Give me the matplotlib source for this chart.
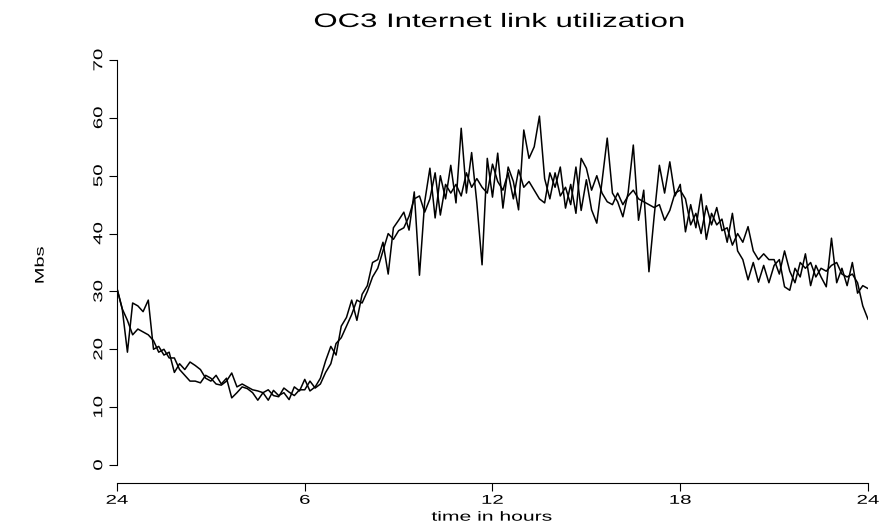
import numpy as np
import matplotlib
matplotlib.use('Agg')
import matplotlib.pyplot as plt
from matplotlib import patheffects
from matplotlib.transforms import Affine2D

# x axis: hours since midnight, labelled like a clock
hour_ticks = [0, 6, 12, 18, 24]
hour_labels = ['24', '6', '12', '18', '24']
mbs_ticks = [0, 10, 20, 30, 40, 50, 60, 70]

# link load in Mbs, one sample every 10 minutes over the day
day1 = [30.5, 27, 19.5, 28, 27.5, 26.5, 28.5, 20, 20.5, 19, 19.5, 16,
        17.5, 16.5, 17.8, 17.2, 16.5, 15, 14.5, 15.5, 14, 15, 11.6, 12.5,
        13.5, 13.2, 12.5, 11.2, 12.5, 11.2, 12.9, 12, 12.5, 11.3, 13.5, 12.8,
        14.8, 12.8, 13.5, 15, 18, 20.5, 19, 24, 25.5, 28.5, 25, 29.5,
        31, 35, 35.5, 38.5, 33, 41, 42.3, 43.7, 40.6, 47.2, 32.8, 45.5,
        51.3, 42.7, 50, 46, 51.8, 45.3, 58.2, 47, 54, 45.3, 34.6, 53,
        46.3, 53.9, 44.4, 51.5, 49, 44.1, 57.9, 53, 55, 60.3, 49.5, 46,
        50.5, 46.5, 48, 45, 51.5, 44, 49.3, 44.1, 41.8, 49, 56.5, 47,
        45.5, 42.9, 47, 55.3, 42.3, 47.5, 33.4, 43, 51.8, 47, 52.4, 46.5,
        48.5, 40.3, 45, 41, 46.8, 39, 43.5, 41.5, 42.5, 38.5, 43.5, 37,
        35.5, 32, 35, 31.6, 34.5, 31.5, 34.5, 35.5, 30.8, 30.2, 34, 32.5,
        36.5, 31, 34.5, 32.5, 30.8, 39.2, 31.5, 34, 31, 35, 29.7, 31,
        30.5]
day2 = [30.5, 27, 25, 22.5, 23.5, 23, 22.5, 21.5, 19.5, 20, 18.5, 18.5,
        16.5, 15.5, 14.5, 14.5, 14.2, 15.5, 15, 14, 13.8, 14.5, 15.9, 13.5,
        14, 13.5, 13, 12.8, 12.5, 13, 12, 11.8, 13.3, 12.6, 12, 13,
        13, 14.5, 13.3, 14, 16, 17.5, 21, 22, 24, 26, 28.5, 28,
        30, 32.5, 34, 37, 40, 39, 40.5, 41, 43, 46, 46.5, 43.7,
        46, 50.5, 43.2, 48.5, 47, 48.5, 46.5, 50.5, 48, 49.5, 48, 47,
        52, 49, 47.5, 50.5, 46, 51, 48, 49, 47.5, 46, 45.3, 50.5,
        48, 51.5, 44.4, 48.5, 43.5, 53, 51.3, 47.5, 50, 47, 45.5, 45,
        47, 45, 46.5, 47.5, 46, 45.5, 45, 44.5, 45, 42.3, 44, 47,
        47.5, 46, 41.5, 43.5, 40, 44.8, 41.5, 44.5, 40.5, 41, 38, 40,
        38.5, 41.2, 37, 35.5, 36.5, 35.5, 35.5, 33, 37, 33.5, 31.5, 35,
        34, 35, 32.5, 34, 33.5, 34.5, 35, 33, 32.5, 33, 31.5, 27.5,
        25.2]


class WideText(patheffects.AbstractPathEffect):
    """Stretch a text path along its baseline, keeping its centre fixed."""

    def __init__(self, factor):
        super().__init__()
        self.factor = factor

    def draw_path(self, renderer, gc, tpath, affine, rgbFace=None):
        ext = tpath.get_extents()
        cx = (ext.x0 + ext.x1) / 2
        widen = Affine2D().translate(-cx, 0).scale(self.factor, 1).translate(cx, 0)
        renderer.draw_path(gc, tpath, widen + affine, rgbFace)


plt.rcParams['font.family'] = ['Liberation Sans', 'DejaVu Sans']
wide = [WideText(1.6)]

hours = np.linspace(0, 24, len(day1))

fig = plt.figure(figsize=(8.83, 5.27), dpi=100)
ax = fig.add_axes([0.1325, 0.0835, 0.8505, 0.8334])
ax.plot(hours, day1, color='black', lw=1.1)
ax.plot(hours, day2, color='black', lw=1.1)

ax.set_xlim(0, 24)
ax.set_ylim(-3.11, 72.8)
for side in ['top', 'right']:
    ax.spines[side].set_visible(False)
ax.spines['left'].set_bounds(0, 70)
ax.spines['bottom'].set_bounds(0, 24)
for side in ['left', 'bottom']:
    ax.spines[side].set_linewidth(0.8)

ax.set_xticks(hour_ticks)
ax.set_xticklabels(hour_labels)
ax.set_yticks(mbs_ticks)
ax.set_yticklabels([str(v) for v in mbs_ticks], rotation=90, va='center')
ax.tick_params(direction='out', length=5.5, width=0.8, labelsize=9.2, pad=3)

for lab in ax.get_xticklabels() + ax.get_yticklabels():
    lab.set_path_effects(wide)

fig.text(0.566, 0.9488, 'OC3 Internet link utilization', fontsize=14,
         ha='center', va='baseline', path_effects=wide)
fig.text(0.557, 0.012, 'time in hours', fontsize=9.5,
         ha='center', va='baseline', path_effects=wide)
fig.text(0.046, 0.497, 'Mbs', fontsize=9, rotation=90,
         ha='center', va='center', path_effects=wide)

fig.savefig('out.png', dpi=100)
